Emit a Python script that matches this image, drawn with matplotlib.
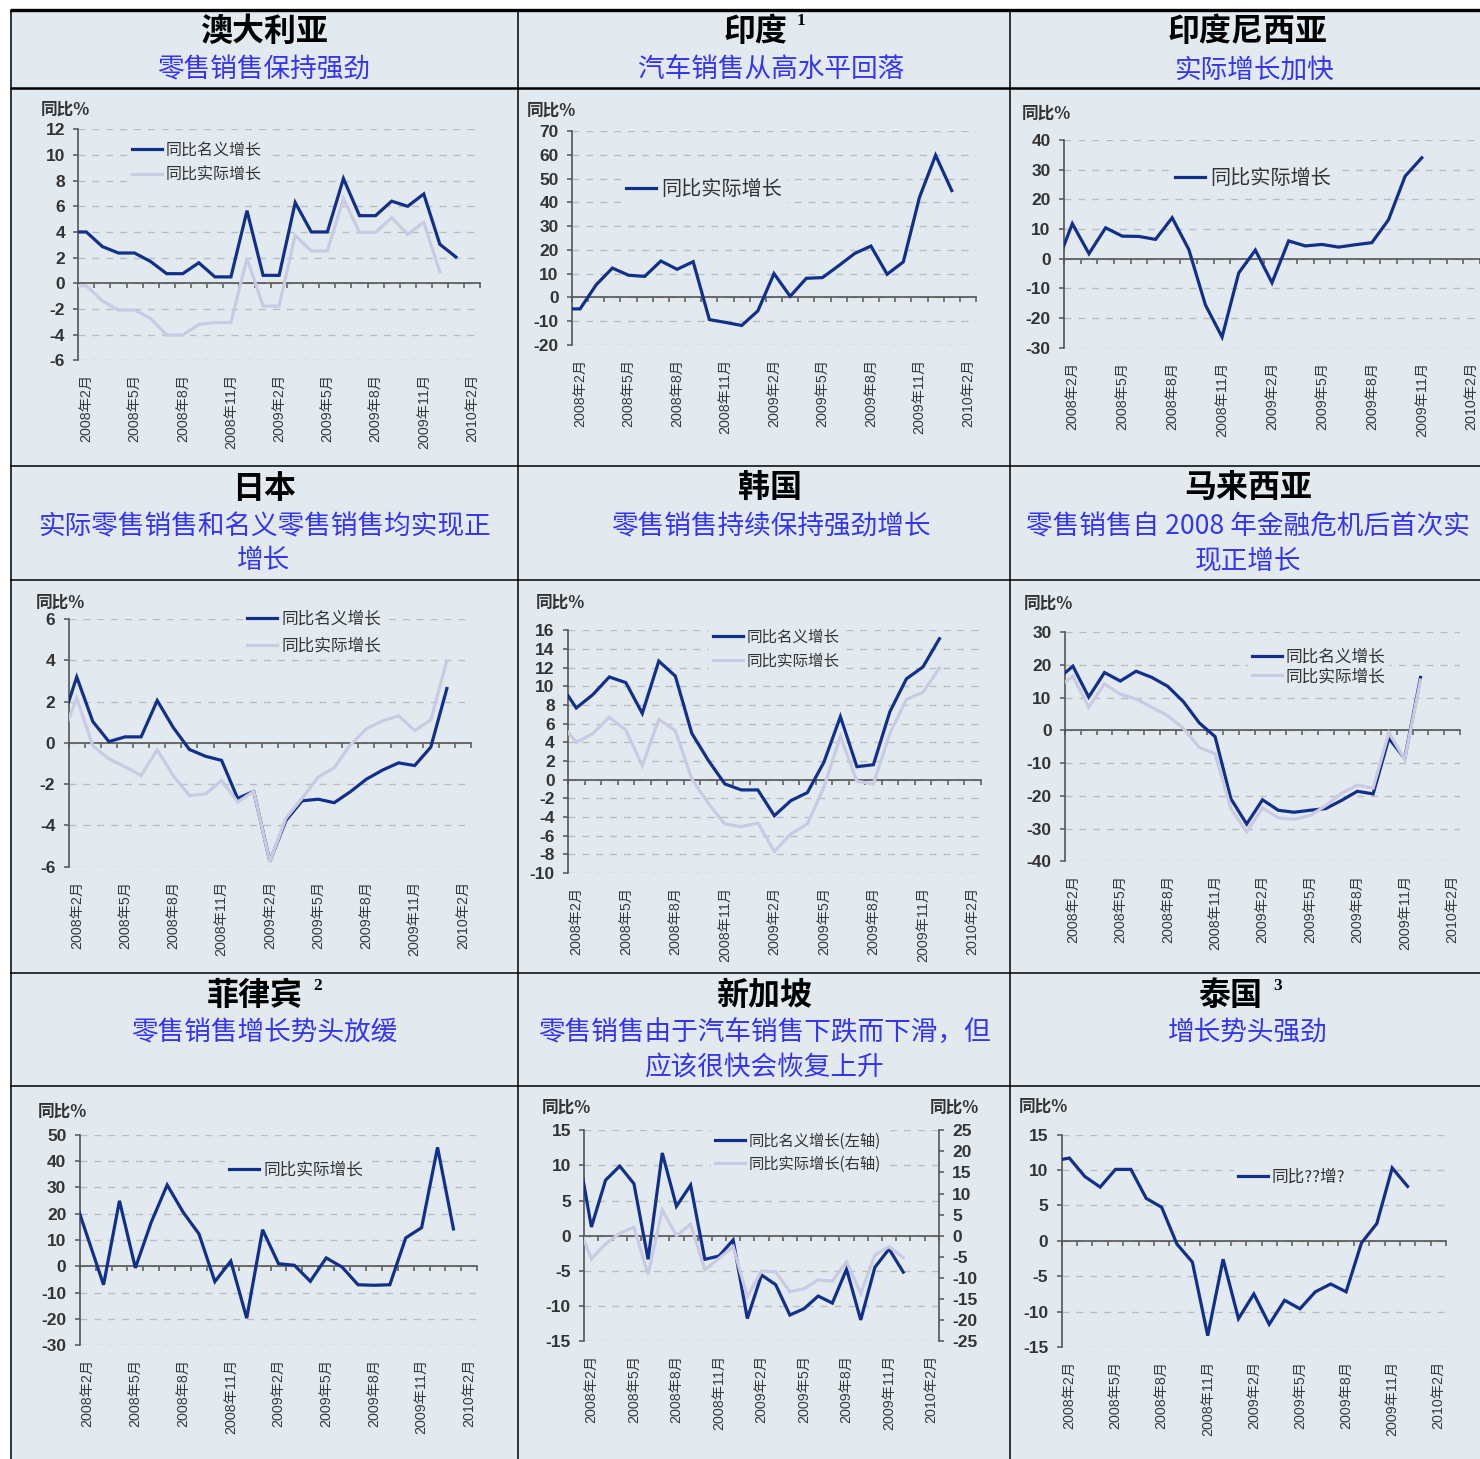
import numpy as np
import matplotlib
matplotlib.use('Agg')
import matplotlib.pyplot as plt
from matplotlib.lines import Line2D
from matplotlib.patches import Rectangle

W, H = 1480, 1459
CJK = ['Noto Sans CJK SC', 'DejaVu Sans']
LAT_CJK = ['Liberation Sans', 'Noto Sans CJK SC', 'DejaVu Sans']
plt.rcParams['font.family'] = CJK
plt.rcParams['axes.unicode_minus'] = False

# ---------------- data ----------------
MONTHS = ['2008年1月', '2008年2月', '2008年3月', '2008年4月', '2008年5月', '2008年6月',
          '2008年7月', '2008年8月', '2008年9月', '2008年10月', '2008年11月', '2008年12月',
          '2009年1月', '2009年2月', '2009年3月', '2009年4月', '2009年5月', '2009年6月',
          '2009年7月', '2009年8月', '2009年9月', '2009年10月', '2009年11月', '2009年12月',
          '2010年1月', '2010年2月']
TICK_LABELS = ['2008年2月', '2008年5月', '2008年8月', '2008年11月', '2009年2月',
               '2009年5月', '2009年8月', '2009年11月', '2010年2月']

# all series start at 2008年1月
au_nominal = [4.0, 4.0, 2.86, 2.36, 2.36, 1.7, 0.75, 0.75, 1.6, 0.5, 0.5, 5.66, 0.62, 0.62,
              6.29, 4.0, 4.0, 8.16, 5.27, 5.27, 6.4, 6.0, 6.96, 3.04, 2.05]
au_real = [-0.2, -0.2, -1.38, -2.08, -2.08, -2.73, -4.03, -4.03, -3.2, -3.06, -3.06, 1.95,
           -1.77, -1.77, 3.74, 2.52, 2.52, 6.6, 3.97, 3.97, 5.12, 3.82, 4.75, 0.88]
in_real = [-4.9, -4.9, 5.3, 12.3, 9.3, 8.8, 15.3, 11.8, 15.0, -9.4, -10.6, -11.9, -5.75, 10.0,
           0.4, 8.0, 8.3, 13.3, 18.5, 21.6, 9.7, 14.9, 42.1, 59.9, 45.0]
id_real = [-2.8, 11.8, 1.7, 10.4, 7.6, 7.5, 6.5, 13.8, 3.1, -15.6, -26.4, -4.8, 2.9, -8.1,
           6.0, 4.3, 4.8, 3.9, 4.7, 5.4, 13.1, 27.8, 34.0]
jp_nominal = [0.81, 3.19, 1.03, 0.06, 0.29, 0.29, 2.05, 0.74, -0.32, -0.65, -0.85, -2.69,
              -2.35, -5.75, -3.76, -2.81, -2.73, -2.9, -2.37, -1.76, -1.32, -0.97, -1.1,
              -0.21, 2.63]
jp_real = [0.16, 2.16, -0.15, -0.77, -1.16, -1.58, -0.34, -1.6, -2.55, -2.48, -1.82, -2.87,
           -2.34, -5.77, -3.65, -2.69, -1.66, -1.21, -0.1, 0.68, 1.06, 1.31, 0.6, 1.11, 3.97]
kr_nominal = [10.32, 7.68, 9.1, 11.0, 10.4, 7.1, 12.7, 11.1, 4.96, 2.07, -0.46, -1.1, -1.1,
              -3.86, -2.25, -1.39, 1.86, 6.75, 1.39, 1.6, 7.29, 10.8, 12.07, 15.1]
kr_real = [6.14, 4.0, 4.93, 6.68, 5.32, 1.5, 6.46, 5.25, 0.07, -2.54, -4.75, -5.04, -4.64,
           -7.68, -5.82, -4.75, -0.82, 4.64, -0.18, -0.46, 4.96, 8.6, 9.36, 11.96]
my_nominal = [15.55, 19.65, 10.2, 17.7, 15.1, 18.1, 16.2, 13.5, 8.75, 2.3, -1.9, -20.9,
              -28.6, -21.2, -24.4, -25.0, -24.4, -23.9, -21.4, -18.6, -19.4, -2.4, -8.6, 16.2]
my_real = [13.0, 16.6, 7.1, 14.2, 11.1, 9.6, 7.1, 4.5, 0.6, -5.2, -7.1, -23.9, -31.0, -23.7,
           -26.7, -27.2, -26.0, -23.0, -19.2, -16.7, -17.6, -0.7, -8.8, 15.4]
ph_real = [29.0, 11.0, -7.0, 24.9, -0.6, 16.8, 30.9, 20.6, 12.3, -5.8, 2.0, -19.7, 13.9, 1.0,
           0.4, -5.7, 3.2, -0.3, -7.0, -7.2, -7.0, 10.8, 14.7, 45.2, 14.2]
sg_nominal = [12.73, 1.23, 7.9, 9.9, 7.4, -3.37, 11.77, 4.18, 7.2, -3.37, -2.9, -0.62, -11.8,
              -5.6, -6.98, -11.3, -10.4, -8.6, -9.6, -4.77, -12.0, -4.5, -1.9, -5.2]
sg_real = [3.1, -5.5, -2.0, 0.55, 2.0, -9.2, 6.1, 0.0, 2.7, -8.1, -5.4, -2.6, -14.5, -8.4,
           -8.6, -13.3, -12.6, -10.5, -10.8, -6.2, -13.7, -4.6, -2.6, -5.2]
th_real = [11.3, 11.7, 9.1, 7.6, 10.1, 10.1, 6.0, 4.75, -0.47, -3.0, -13.4, -2.6, -11.0, -7.5,
           -11.8, -8.4, -9.6, -7.2, -6.1, -7.2, -0.3, 2.45, 10.3, 7.7]

LBL_NOM = '同比名义增长'
LBL_REAL = '同比实际增长'

# ---------------- style ----------------
BG = '#E2EAF0'
NAVY = '#12308A'
LIGHT = '#CACAE2'
GRID = '#BDBDBD'
AXC = '#555555'
TXT = '#333333'
LW = 2.3

fig = plt.figure(figsize=(W / 100, H / 100), dpi=100)
fig.patch.set_facecolor('white')


def fx(x):
    return x / W


def fy(y):
    return 1 - y / H


fig.add_artist(Rectangle((fx(10), 0), 1 - fx(10), fy(10), transform=fig.transFigure,
                         facecolor=BG, edgecolor='none', zorder=-10))


def hline(y, x0, x1, lw):
    fig.add_artist(Line2D([fx(x0), fx(x1)], [fy(y), fy(y)], transform=fig.transFigure,
                          color='black', lw=lw, solid_capstyle='butt'))


def vline(x, y0, y1, lw):
    fig.add_artist(Line2D([fx(x), fx(x)], [fy(y0), fy(y1)], transform=fig.transFigure,
                          color='black', lw=lw, solid_capstyle='butt'))


hline(10, 10, 1480, 2.4)
hline(88, 10, 1480, 1.8)
for yy in (466, 580, 973, 1086):
    hline(yy, 10, 1480, 1.1)
vline(10.5, 10, 1459, 1.1)
vline(518, 10, 1459, 1.1)
vline(1010, 10, 1459, 1.1)

# ---------------- headers ----------------
TITLE_FS = 23
SUB_FS = 19.2
SUBC = '#3535EE'
titles = [
    (264, 32, '澳大利亚'), (756, 32, '印度'), (1248, 32, '印度尼西亚'),
    (264, 489, '日本'), (770, 489, '韩国'), (1248, 489, '马来西亚'),
    (255, 996, '菲律宾'), (764, 996, '新加坡'), (1230, 996, '泰国'),
]
for x, y, s in titles:
    fig.text(fx(x), fy(y), s, ha='center', va='center', fontsize=TITLE_FS, color='black',
             family=CJK, weight='bold')
sups = [(801, 21, '1'), (318, 986, '2'), (1278, 986, '3')]
for x, y, s in sups:
    fig.text(fx(x), fy(y), s, ha='center', va='center', fontsize=12.5, color='black',
             family=['Liberation Serif'], weight='bold')
subs = [
    (264, 70, '零售销售保持强劲'), (771, 70, '汽车销售从高水平回落'), (1254, 70, '实际增长加快'),
    (264, 527, '实际零售销售和名义零售销售均实现正'), (264, 561, '增长'),
    (771, 527, '零售销售持续保持强劲增长'),
    (1248, 527, '零售销售自 2008 年金融危机后首次实'), (1248, 561, '现正增长'),
    (264, 1033, '零售销售增长势头放缓'),
    (764, 1033, '零售销售由于汽车销售下跌而下滑，但'), (764, 1068, '应该很快会恢复上升'),
    (1248, 1033, '增长势头强劲'),
]
for x, y, s in subs:
    fig.text(fx(x), fy(y), s, ha='center', va='center', fontsize=SUB_FS, color=SUBC,
             family=CJK)

# ---------------- panels ----------------
x_all = np.arange(len(MONTHS))
tick_pos = [MONTHS.index(m) for m in TICK_LABELS]
value_axes = []


def style_axis(ax, ylim, ystep, side='left'):
    ax.set_facecolor('none')
    ax.set_xlim(0.5, len(MONTHS) - 0.5)
    ax.set_ylim(*ylim)
    yt = np.arange(ylim[0], ylim[1] + ystep / 2, ystep)
    ax.set_yticks(yt, labels=[f'{v:g}' for v in yt])
    for s in ('top', 'right', 'left', 'bottom'):
        ax.spines[s].set_visible(False)
    ax.spines[side].set_visible(True)
    ax.spines[side].set_color(AXC)
    ax.spines[side].set_linewidth(1.2)
    ax.tick_params(axis='y', which='both', direction='out', length=3.6, width=1.1,
                   color=AXC, pad=6, labelsize=12.5, labelcolor=TXT,
                   labelfontfamily='Liberation Sans',
                   left=(side == 'left'), right=(side == 'right'),
                   labelleft=(side == 'left'), labelright=(side == 'right'))
    value_axes.append(ax)


def draw_panel(rect, ylim, ystep, lines, leg, ylab, twin=None):
    l, r, t, b = rect
    ax = fig.add_axes([fx(l), fy(b), (r - l) / W, (b - t) / H])
    style_axis(ax, ylim, ystep)
    ax.set_axisbelow(True)
    ax.yaxis.grid(True, linestyle=(0, (5, 5)), color=GRID, lw=1.0)
    # zero line with month tick marks
    ax.spines['bottom'].set_visible(True)
    ax.spines['bottom'].set_position(('data', 0))
    ax.spines['bottom'].set_color(AXC)
    ax.spines['bottom'].set_linewidth(1.2)
    ax.set_xticks(np.arange(0.5, len(MONTHS), 1.0))
    ax.tick_params(axis='x', direction='out', length=3.6, width=1.1, color=AXC,
                   labelbottom=False)
    sec = ax.secondary_xaxis('bottom')
    sec.spines['bottom'].set_visible(False)
    sec.set_xticks(tick_pos)
    sec.set_xticklabels(TICK_LABELS, rotation=90, fontsize=10.3, color='#383838',
                        family=LAT_CJK)
    sec.tick_params(length=0, pad=10)

    handles = []
    ax2 = None
    if twin is not None:
        ax2 = ax.twinx()
        style_axis(ax2, twin[0], twin[1], side='right')
    for vals, color, label, which in lines:
        target = ax2 if (which == 2 and ax2 is not None) else ax
        ln, = target.plot(x_all[:len(vals)], vals, color=color, lw=LW, label=label,
                          zorder=3 if color == NAVY else 4, solid_joinstyle='miter')
        handles.append(ln)

    lx, ly, fs, spacing = leg
    fs_px = fs * 100 / 72
    bp = 0.25
    anchor = (fx(lx - bp * fs_px), fy(ly - 0.5 * fs_px - bp * fs_px))
    lg = (ax2 if ax2 is not None else ax).legend(
        handles=handles, loc='upper left', bbox_to_anchor=anchor,
        bbox_transform=fig.transFigure, borderaxespad=0, borderpad=bp,
        frameon=True, facecolor=BG, edgecolor='none', framealpha=1, fancybox=False,
        handlelength=30 / fs_px, handletextpad=0.25, labelspacing=spacing,
        prop={'family': CJK, 'size': fs})
    for tx in lg.get_texts():
        tx.set_color(TXT)
    lg.set_zorder(5)

    for (x, y, s, w) in ylab:
        fig.text(fx(x), fy(y), s, ha='left', va='center', fontsize=12, color=TXT,
                 family=CJK, weight=w)
    return ax


draw_panel((78.3, 480, 129.3, 360.3), (-6, 12), 2,
           [(au_nominal, NAVY, LBL_NOM, 1), (au_real, LIGHT, LBL_REAL, 1)],
           (131.7, 149.3, 11.5, 0.5), [(41, 110, '同比%', 'bold')])
draw_panel((572, 976, 131.3, 344.7), (-20, 70), 10,
           [(in_real, NAVY, LBL_REAL, 1)],
           (626.3, 189.3, 14.5, 0.3), [(527, 110.7, '同比%', 'bold')])
draw_panel((1064, 1480, 140, 347.7), (-30, 40), 10,
           [(id_real, NAVY, LBL_REAL, 1)],
           (1175, 178.3, 14.5, 0.3), [(1022, 114, '同比%', 'bold')])
draw_panel((68.7, 471, 619, 866.7), (-6, 6), 2,
           [(jp_nominal, NAVY, LBL_NOM, 1), (jp_real, LIGHT, LBL_REAL, 1)],
           (247.3, 619.3, 12, 0.6), [(36, 602.3, '同比%', 'bold')])
draw_panel((568, 980.7, 630.3, 873), (-10, 16), 2,
           [(kr_nominal, NAVY, LBL_NOM, 1), (kr_real, LIGHT, LBL_REAL, 1)],
           (713, 636, 11.2, 0.45), [(536, 602.3, '同比%', 'bold')])
draw_panel((1065, 1460, 632.3, 861.3), (-40, 30), 10,
           [(my_nominal, NAVY, LBL_NOM, 1), (my_real, LIGHT, LBL_REAL, 1)],
           (1251.7, 657, 12, 0.15), [(1024, 603.3, '同比%', 'bold')])
draw_panel((79.7, 477.3, 1134.7, 1345.3), (-30, 50), 10,
           [(ph_real, NAVY, LBL_REAL, 1)],
           (229, 1170, 12, 0.3), [(38, 1111.7, '同比%', 'bold')])
draw_panel((584.3, 938.7, 1130.3, 1341), (-15, 15), 5,
           [(sg_nominal, NAVY, '同比名义增长(左轴)', 1), (sg_real, LIGHT, '同比实际增长(右轴)', 2)],
           (714.7, 1140, 11, 0.4),
           [(542, 1107.3, '同比%', 'bold'), (930, 1107.3, '同比%', 'bold')],
           twin=((-25, 25), 5))
draw_panel((1061.7, 1446, 1134.7, 1347), (-15, 15), 5,
           [(th_real, NAVY, '同比??增?', 1)],
           (1237.7, 1177.3, 12, 0.3), [(1019, 1106.7, '同比%', 'bold')])

fig.canvas.draw()
for a in value_axes:
    for tk in a.yaxis.get_major_ticks():
        tk.label1.set_fontweight('bold')
        tk.label2.set_fontweight('bold')

fig.savefig('out.png', dpi=100, facecolor=fig.get_facecolor())
